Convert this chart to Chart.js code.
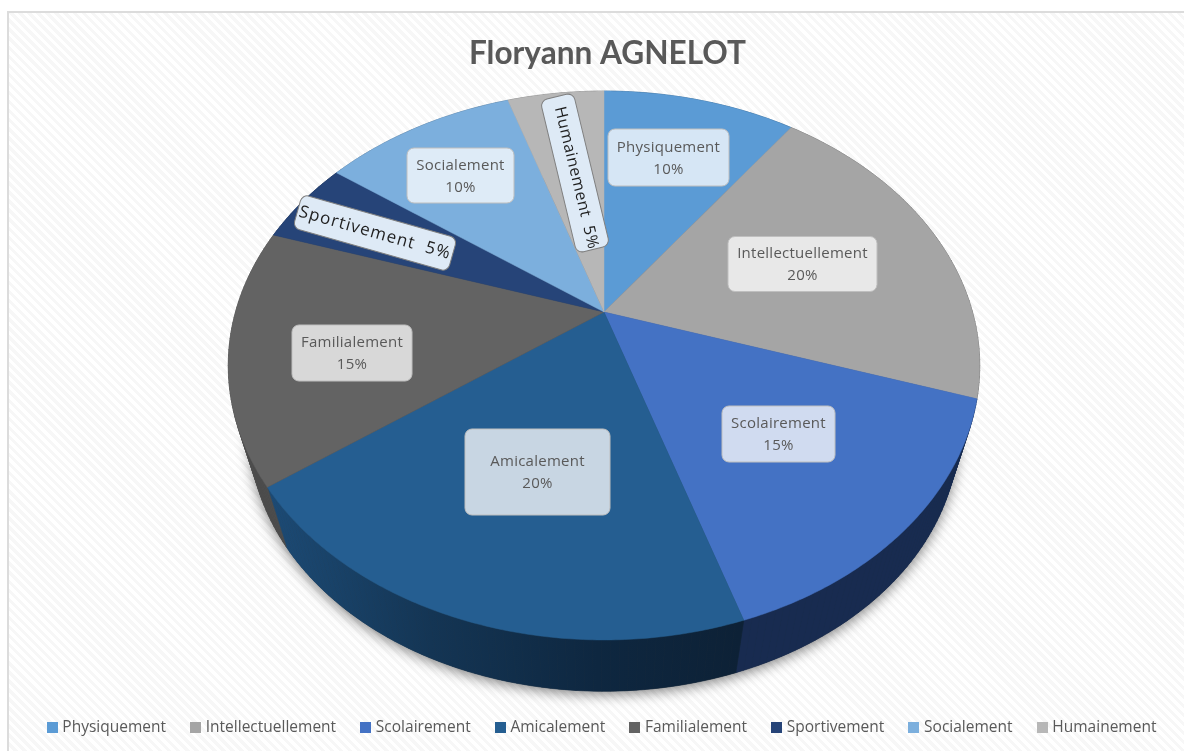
<!DOCTYPE html>
<html lang="fr">
<head>
<meta charset="utf-8">
<title>Floryann AGNELOT</title>
<style>
html,body{margin:0;padding:0;background:#fff;width:1184px;height:751px;overflow:hidden}
#frame{position:absolute;left:7px;top:11px;width:1177px;height:740px;box-sizing:border-box;border-left:2px solid #dcdcdc;border-top:2px solid #dcdcdc;
background:repeating-linear-gradient(45deg,#ffffff 0 3.2px,#f7f7f7 3.2px 6.4px)}
canvas{position:absolute;left:0;top:0}
</style>
</head>
<body>
<div id="frame"></div>
<canvas id="c" width="1184" height="751"></canvas>
<script src="https://cdn.jsdelivr.net/npm/chart.js@4"></script>
<script>
const categories = ['Physiquement','Intellectuellement','Scolairement','Amicalement','Familialement','Sportivement','Socialement','Humainement'];
const values = [10,20,15,20,15,5,10,5];
const colors = ['#5b9bd5','#a5a5a5','#4472c4','#255e91','#636363','#264478','#7cafdd','#b7b7b7'];

// Style only: perspective of the tilted disc
const view = {cx:604, cy:312, a:368.5, b:264, k:0.195, lowerScale:0.943, lowerDrop:70};
// Style only: where each data label sits (centre x, centre y, w, h, rotation in degrees, dark-label text style)
const labelBoxes = [
  [668.5,157.5,121,57,0,null],
  [802.5,264,149,55,0,null],
  [778.5,434,113,56,0,null],
  [537.5,472,145,86,0,null],
  [352,353,120,56,0,null],
  [375,233,161,35,15.8,{size:17,spacing:1.1,shift:0}],
  [460.5,175.5,107,55,0,null],
  [575,173,157,34,76.5,{size:16,spacing:0.5,shift:5}]
];

function project(angle, lower){
  const x = Math.cos(angle), y = Math.sin(angle), d = 1 - view.k*y;
  const s = lower ? view.lowerScale : 1, dy = lower ? view.lowerDrop : 0;
  return [view.cx + s*view.a*x/d, view.cy + dy + s*view.b*y/d];
}
function arcPath(ctx, start, end, lower, fromCentre){
  const n = Math.max(2, Math.ceil((end-start)/0.01));
  if (fromCentre) ctx.moveTo(view.cx, view.cy);
  for (let i=0;i<=n;i++){
    const p = project(start+(end-start)*i/n, lower);
    if (i===0 && !fromCentre) ctx.moveTo(p[0],p[1]); else ctx.lineTo(p[0],p[1]);
  }
}
function sideStyle(ctx, i){
  if (i===3){
    const g = ctx.createLinearGradient(265,0,740,0);
    g.addColorStop(0,'#1c4b76');
    g.addColorStop(0.35,'#143554');
    g.addColorStop(0.7,'#0e2740');
    g.addColorStop(1,'#0d2136');
    return g;
  }
  return {0:'#2d5a80',1:'#5a5a5a',2:'#182b50',4:'#4d4d4d',5:'#16294a',6:'#4a6a85',7:'#6e6e6e'}[i];
}
function swatch(color){
  const c = document.createElement('canvas');
  c.width = 11; c.height = 11;
  const g = c.getContext('2d');
  g.fillStyle = color;
  g.fillRect(0,0,11,11);
  return c;
}

const piePlugin = {
  id:'tiltedPie',
  afterLayout(chart){
    // the title sits slightly right of the legend's centre
    if (chart.titleBlock){ chart.titleBlock.left += 4.5; chart.titleBlock.right += 4.5; }
  },
  beforeDatasetsDraw(chart){
    const ctx = chart.ctx;
    const arcs = chart.getDatasetMeta(0).data;
    ctx.save();
    // soft shadow under the disc
    ctx.save();
    ctx.shadowColor='rgba(0,0,0,0.5)';
    ctx.shadowBlur=13;
    ctx.shadowOffsetY=3;
    ctx.fillStyle='#333';
    ctx.beginPath();
    arcPath(ctx,0,Math.PI*2,true,false);
    ctx.closePath();
    ctx.fill();
    ctx.restore();
    // rim
    arcs.forEach((arc,i)=>{
      const style = sideStyle(ctx,i);
      const n = Math.max(2, Math.ceil((arc.endAngle-arc.startAngle)/0.02));
      for (let j=0;j<n;j++){
        const a0 = arc.startAngle+(arc.endAngle-arc.startAngle)*j/n;
        const a1 = arc.startAngle+(arc.endAngle-arc.startAngle)*(j+1)/n;
        const p0=project(a0,false),p1=project(a1,false),q1=project(a1,true),q0=project(a0,true);
        ctx.beginPath();
        ctx.moveTo(p0[0],p0[1]);ctx.lineTo(p1[0],p1[1]);ctx.lineTo(q1[0],q1[1]);ctx.lineTo(q0[0],q0[1]);ctx.closePath();
        ctx.fillStyle=style;ctx.strokeStyle=style;ctx.lineWidth=0.6;
        ctx.fill();ctx.stroke();
      }
    });
    // top face
    arcs.forEach((arc,i)=>{
      ctx.beginPath();
      arcPath(ctx,arc.startAngle,arc.endAngle,false,true);
      ctx.closePath();
      ctx.fillStyle=colors[i];
      ctx.fill();
      ctx.strokeStyle=colors[i];ctx.lineWidth=0.5;ctx.stroke();
    });
    // data labels
    arcs.forEach((arc,i)=>{
      const [x,y,w,h,rot,dark] = labelBoxes[i];
      ctx.save();
      ctx.translate(x,y);
      ctx.rotate(rot*Math.PI/180);
      ctx.beginPath();
      ctx.roundRect(-w/2,-h/2,w,h,7);
      ctx.fillStyle = dark ? '#deeaf6' : 'rgba(255,255,255,0.75)';
      ctx.fill();
      ctx.lineWidth = 1;
      ctx.strokeStyle = dark ? '#7f7f7f' : '#bfbfbf';
      ctx.stroke();
      ctx.textAlign='center';ctx.textBaseline='middle';
      if (dark){
        ctx.fillStyle='#1f1f1f';
        ctx.font=dark.size+'px "Open Sans"';
        ctx.letterSpacing=dark.spacing+'px';
        ctx.fillText(categories[i]+'  '+values[i]+'%',dark.shift,0);
      } else {
        ctx.fillStyle='#595959';
        ctx.font='15px "Open Sans"';
        ctx.letterSpacing='0.25px';
        ctx.fillText(categories[i],0,-10);
        ctx.fillText(values[i]+'%',0,12);
      }
      ctx.restore();
    });
    ctx.restore();
    return false;
  }
};

new Chart(document.getElementById('c'),{
  type:'pie',
  data:{labels:categories,datasets:[{data:values,backgroundColor:colors,borderWidth:0}]},
  options:{
    responsive:false,
    animation:false,
    layout:{padding:{left:22,right:0,top:0,bottom:6}},
    plugins:{
      tooltip:{enabled:false},
      title:{display:true,text:'Floryann AGNELOT',color:'#595959',
        font:{family:'Lato',size:31.6,weight:'bold'},padding:{top:35,bottom:10}},
      legend:{position:'bottom',
        labels:{color:'#595959',font:{family:'"Open Sans"',size:15.5},
          usePointStyle:true,pointStyleWidth:5,boxHeight:11,padding:27,
          generateLabels(chart){
            return Chart.overrides.pie.plugins.legend.labels.generateLabels(chart)
              .map((item,i)=>Object.assign(item,{pointStyle:swatch(colors[i])}));
          }}}
    }
  },
  plugins:[piePlugin]
});
</script>
</body>
</html>
